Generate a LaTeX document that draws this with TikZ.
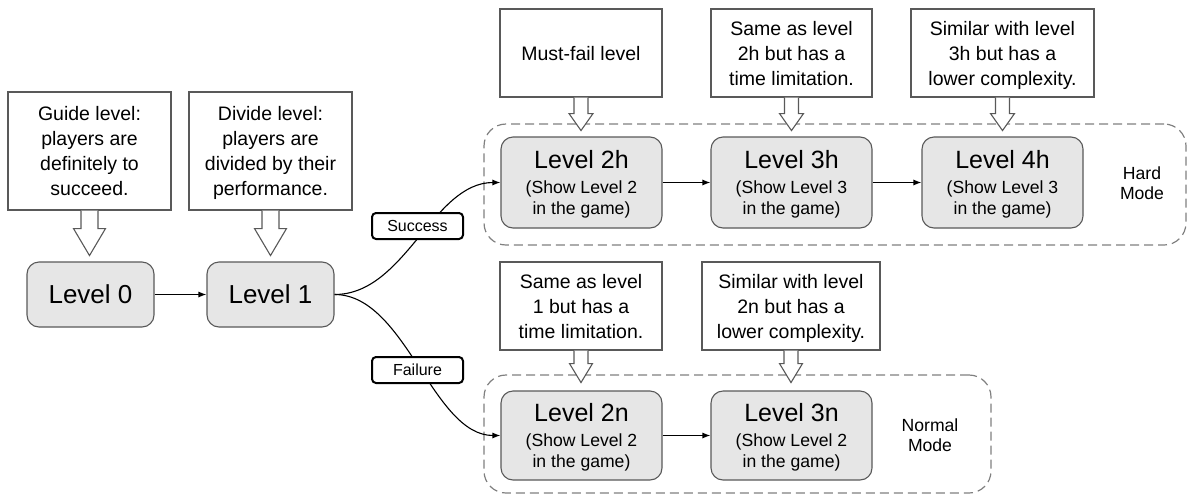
\documentclass[tikz,border=0pt]{standalone}
\usepackage{fontspec}
\setmainfont{Liberation Sans}
\usetikzlibrary{arrows.meta}

\definecolor{edgegray}{HTML}{595959}
\definecolor{levelfill}{HTML}{E6E6E6}
\definecolor{groupgray}{HTML}{808080}

% level title plus the "(Show Level n / in the game)" note
\newcommand{\lvlcontent}[2]{{\fontsize{25}{28}\selectfont #1}\\[3.5pt](#2\\in the game)}

\tikzset{
  levelbox/.style={draw=edgegray, fill=levelfill, rounded corners=12pt, line width=1.1pt,
    align=center, inner sep=0pt, minimum width=161pt, minimum height=91pt,
    text depth=0pt, font=\fontsize{17.6}{21}\selectfont},
  startbox/.style={draw=edgegray, fill=levelfill, rounded corners=12pt, line width=1.1pt,
    inner sep=0pt, minimum width=127pt, minimum height=65pt,
    font=\fontsize{26}{30}\selectfont},
  notebox/.style={draw=edgegray, fill=white, line width=1.1pt, align=center, inner sep=0pt,
    text depth=0pt, font=\fontsize{19.5}{25}\selectfont},
  groupbox/.style={draw=groupgray, dash pattern=on 9pt off 5pt, line width=1.2pt,
    rounded corners=22pt, inner sep=0pt},
  modetext/.style={align=center, font=\fontsize{17.6}{20}\selectfont},
  outcome/.style={draw=black, fill=white, line width=2pt, rounded corners=4pt, inner sep=0pt,
    minimum width=91pt, minimum height=26pt, font=\fontsize{16}{18}\selectfont},
  flow/.style={line width=1.1pt, -{Latex[length=8pt,width=6pt]}},
  hollow/.style={draw=edgegray, fill=white, line width=1.1pt, line join=miter},
}

% hollow block arrow hanging below a note: #1 node, #2 shaft half width,
% #3 head half width, #4 shaft length, #5 head length
\newcommand{\hollowdown}[5]{%
  \draw[hollow, shift={(#1.south)}]
    (-#2,0) -- (-#2,#4) -- (-#3,#4) -- (0,#4+#5) -- (#3,#4) -- (#2,#4) -- (#2,0);}

\begin{document}
\begin{tikzpicture}[x=1pt, y=-1pt]
\useasboundingbox (0,0) rectangle (1188,496);

% mode groups
\node[groupbox, minimum width=702pt, minimum height=121pt] (hard) at (835,184.5) {};
\node[groupbox, minimum width=507pt, minimum height=118pt] (normal) at (737.5,434) {};
\node[modetext] (hardlabel) at (1142,183) {Hard\\Mode};
\node[modetext] (normallabel) at (930,435) {Normal\\Mode};

% levels
\node[startbox] (l0) at (90.5,294.5) {Level 0};
\node[startbox] (l1) at (270.5,294.5) {Level 1};
\node[levelbox] (l2h) at (581.5,182.5) {\lvlcontent{Level 2h}{Show Level 2}};
\node[levelbox] (l3h) at (791.5,182.5) {\lvlcontent{Level 3h}{Show Level 3}};
\node[levelbox] (l4h) at (1002.5,182.5) {\lvlcontent{Level 4h}{Show Level 3}};
\node[levelbox, minimum height=89pt] (l2n) at (581.5,435.5) {\lvlcontent{Level 2n}{Show Level 2}};
\node[levelbox, minimum height=89pt] (l3n) at (791.5,435.5) {\lvlcontent{Level 3n}{Show Level 2}};

% notes
\node[notebox, minimum width=163pt, minimum height=118pt] (n0) at (89.5,151)
  {Guide level:\\players are\\definitely to\\succeed.};
\node[notebox, minimum width=163pt, minimum height=118pt] (n1) at (270.5,151)
  {Divide level:\\players are\\divided by their\\performance.};
\node[notebox, minimum width=162pt, minimum height=88pt] (n2h) at (581,53)
  {Must-fail level};
\node[notebox, minimum width=161pt, minimum height=88pt] (n3h) at (791.5,53)
  {Same as level\\2h but has a\\time limitation.};
\node[notebox, minimum width=183pt, minimum height=88pt] (n4h) at (1002.5,53)
  {Similar with level\\3h but has a\\lower complexity.};
\node[notebox, minimum width=162pt, minimum height=88pt] (n2n) at (581,306)
  {Same as level\\1 but has a\\time limitation.};
\node[notebox, minimum width=178pt, minimum height=88pt] (n3n) at (791,306)
  {Similar with level\\2n but has a\\lower complexity.};

% block arrows from notes to levels
\hollowdown{n0}{8.5}{16}{18}{27}
\hollowdown{n1}{8.5}{16}{18}{27}
\hollowdown{n2h}{7}{12}{16}{17}
\hollowdown{n3h}{7}{12}{16}{17}
\hollowdown{n4h}{7}{12}{16}{17}
\hollowdown{n2n}{7}{11.5}{13}{19}
\hollowdown{n3n}{7}{11.5}{13}{19}

% flow
\draw[flow] (l0.east) -- (l1.west);
\draw[flow] (l1.east) .. controls +(71,0) and +(-68,0) .. (l2h.west);
\draw[flow] (l1.east) .. controls +(71,0) and +(-68,0) .. (l2n.west);
\draw[flow] (l2h.east) -- (l3h.west);
\draw[flow] (l3h.east) -- (l4h.west);
\draw[flow] (l2n.east) -- (l3n.west);

% outcome tags on the branches
\node[outcome] (succ) at (417.5,226) {Success};
\node[outcome] (fail) at (417.5,370) {Failure};
\end{tikzpicture}
\end{document}
